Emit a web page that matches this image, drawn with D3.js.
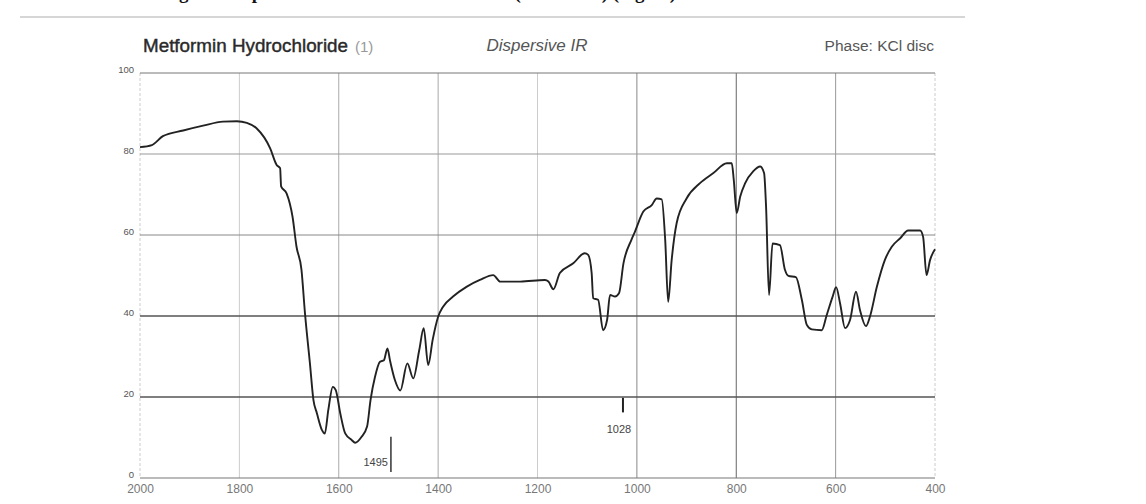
<!DOCTYPE html>
<html>
<head>
<meta charset="utf-8">
<script src="https://cdn.jsdelivr.net/npm/d3@7"></script>
<style>
  body { margin: 0; background: #fff; }
  svg { display: block; }
</style>
</head>
<body>
<div id="chart"></div>
<script>
// spectrum: wavenumber (cm-1) and % transmittance
const wavenumbers = [2000, 1976, 1954, 1913, 1873, 1833, 1805, 1785, 1765, 1738, 1725, 1718, 1716, 1705, 1693, 1685,
  1675, 1668, 1658, 1651, 1644, 1634, 1628, 1621, 1612, 1606, 1597, 1587, 1574, 1567, 1554, 1543, 1536, 1527,
  1517, 1509, 1502, 1497, 1487, 1476, 1462, 1450, 1438, 1429, 1420, 1411, 1400, 1390, 1370, 1343, 1316, 1289,
  1275, 1235, 1185, 1178, 1168, 1155, 1128, 1105, 1098, 1091, 1088, 1078, 1068, 1060, 1054, 1044, 1036, 1027,
  1011, 1004, 987, 970, 960, 950, 943, 937, 930, 920, 900, 873, 846, 819, 809, 805, 799, 792, 782, 766, 752,
  744, 740, 734, 727, 712, 702, 695, 680, 668, 658, 648, 628, 618, 606, 599, 591, 581, 571, 559, 551, 539,
  531, 517, 501, 487, 470, 454, 430, 424, 417, 410, 400];
const transmittance = [81.7, 82.2, 84.4, 85.8, 87.0, 88.0, 88.1, 87.7, 86.3, 81.4, 77.3, 76.5, 72.0, 70.3, 64.5, 57.1,
  51.4, 40.7, 28.3, 19.3, 16.0, 11.9, 11.0, 16.8, 22.5, 21.7, 16.0, 11.0, 9.4, 8.7, 10.2, 12.7, 19.3, 25.0,
  28.7, 29.1, 32.0, 29.1, 24.2, 21.6, 28.3, 24.6, 31.6, 37.0, 27.9, 34.1, 39.8, 42.3, 44.8, 47.2, 48.9, 50.1,
  48.5, 48.5, 48.9, 48.5, 46.6, 50.6, 53.0, 55.5, 55.1, 50.6, 44.4, 44.0, 36.5, 39.0, 45.2, 44.8, 45.6, 53.0,
  58.8, 60.8, 65.8, 67.4, 69.0, 68.8, 58.8, 43.5, 53.8, 62.9, 69.0, 72.8, 75.3, 77.7, 77.7, 73.6, 65.4, 69.5, 72.8, 75.7, 76.9,
  75.3, 67.0, 45.2, 57.9, 57.5, 51.4, 49.9, 49.6, 44.0, 37.8, 36.7, 36.5, 40.2, 44.8, 47.1, 43.1, 37.0, 39.0, 46.0, 41.5, 37.5,
  39.8, 47.2, 53.8, 57.1, 59.2, 61.1, 61.1, 59.6, 50.1, 53.8, 56.5];

const xTicks = [2000, 1800, 1600, 1400, 1200, 1000, 800, 600, 400];
const yTicks = [0, 20, 40, 60, 80, 100];
const peakMarks = [{ wn: 1495, label: "1495" }, { wn: 1028, label: "1028" }];

const width = 1146;
const height = 504;
const margin = { top: 73, right: 211, bottom: 26, left: 140 };

const xScale = d3.scaleLinear()
  .domain([2000, 400])
  .range([margin.left, width - margin.right]);

const yScale = d3.scaleLinear()
  .domain([0, 100])
  .range([height - margin.bottom, margin.top]);

const svg = d3.select("#chart")
  .append("svg")
  .attr("width", width)
  .attr("height", height);

// caption of the page above, cut by the scan edge
svg.append("text")
  .attr("x", 162)
  .attr("y", -1)
  .attr("font-family", "Liberation Serif, serif")
  .attr("font-weight", "bold")
  .attr("font-size", 19)
  .attr("fill", "#111")
  .text("Fig. 1: IR spectrum of metformin standard (Reference) (Sigma)");

svg.append("line")
  .attr("x1", 20).attr("x2", 965)
  .attr("y1", 17).attr("y2", 17)
  .attr("stroke", "#c8c8c8")
  .attr("stroke-width", 1.5);

// header
const header = svg.append("g")
  .attr("font-family", "Liberation Sans, Arial, sans-serif")
  .attr("fill", "#333");

header.append("text")
  .attr("x", 143)
  .attr("y", 52)
  .attr("font-size", 17.5)
  .attr("fill", "#2a2a2a")
  .attr("stroke", "#2a2a2a")
  .attr("stroke-width", 0.4)
  .attr("textLength", 205)
  .attr("lengthAdjust", "spacingAndGlyphs")
  .text("Metformin Hydrochloride");

header.append("text")
  .attr("x", 355)
  .attr("y", 52)
  .attr("font-size", 15)
  .attr("fill", "#999")
  .text("(1)");

header.append("text")
  .attr("x", 537)
  .attr("y", 51)
  .attr("text-anchor", "middle")
  .attr("font-style", "italic")
  .attr("font-size", 17)
  .attr("fill", "#555")
  .text("Dispersive IR");

header.append("text")
  .attr("x", 934)
  .attr("y", 51)
  .attr("text-anchor", "end")
  .attr("font-size", 15.5)
  .attr("fill", "#555")
  .text("Phase: KCl disc");

// grid
const vColor = { 2000: "#ccc", 1800: "#ccc", 1600: "#aaa", 1400: "#aaa", 1200: "#ccc", 1000: "#888", 800: "#666", 600: "#999", 400: "#ccc" };
const hColor = { 0: "#777", 20: "#555", 40: "#555", 60: "#888", 80: "#999", 100: "#777" };

svg.append("g")
  .selectAll("line")
  .data(xTicks)
  .join("line")
  .attr("x1", d => xScale(d)).attr("x2", d => xScale(d))
  .attr("y1", yScale(100)).attr("y2", yScale(0))
  .attr("stroke", d => vColor[d])
  .attr("stroke-width", 1)
  .attr("stroke-dasharray", d => (d === 2000 || d === 400) ? "3,2" : null);

svg.append("g")
  .selectAll("line")
  .data(yTicks)
  .join("line")
  .attr("x1", xScale(2000)).attr("x2", xScale(400))
  .attr("y1", d => yScale(d)).attr("y2", d => yScale(d))
  .attr("stroke", d => hColor[d])
  .attr("stroke-width", d => (d === 20 || d === 40) ? 1.3 : 1);

// axes (labels only)
svg.append("g")
  .attr("class", "axis x-axis")
  .attr("transform", `translate(0,${height - margin.bottom})`)
  .call(d3.axisBottom(xScale).tickValues(xTicks).tickFormat(d3.format("d")).tickSize(0).tickPadding(6))
  .call(g => g.select(".domain").remove())
  .call(g => g.selectAll("text")
    .attr("font-family", "Liberation Sans, Arial, sans-serif")
    .attr("font-size", 12)
    .attr("fill", "#777"));

svg.append("g")
  .attr("class", "axis y-axis")
  .attr("transform", `translate(${margin.left},0)`)
  .call(d3.axisLeft(yScale).tickValues(yTicks).tickSize(0).tickPadding(6))
  .call(g => g.select(".domain").remove())
  .call(g => g.selectAll("text")
    .attr("dy", "-0.1em")
    .attr("font-family", "Liberation Sans, Arial, sans-serif")
    .attr("font-size", 9.5)
    .attr("fill", "#555"));

// spectrum
const data = wavenumbers.map((w, i) => ({ wn: w, t: transmittance[i] }));

const line = d3.line()
  .x(d => xScale(d.wn))
  .y(d => yScale(d.t))
  .curve(d3.curveMonotoneX);

svg.append("path")
  .datum(data)
  .attr("fill", "none")
  .attr("stroke", "#222")
  .attr("stroke-width", 1.9)
  .attr("stroke-linejoin", "round")
  .attr("d", line);

// peak markers
const marks = svg.append("g").attr("font-family", "Liberation Sans, Arial, sans-serif");

// 1495 mark rises from the baseline, label to its left
marks.append("line")
  .attr("x1", xScale(peakMarks[0].wn)).attr("x2", xScale(peakMarks[0].wn))
  .attr("y1", yScale(10.2)).attr("y2", yScale(1.5))
  .attr("stroke", "#333").attr("stroke-width", 1.5);
marks.append("text")
  .attr("x", xScale(peakMarks[0].wn) - 3)
  .attr("y", yScale(3))
  .attr("text-anchor", "end")
  .attr("font-size", 11)
  .attr("fill", "#444")
  .text(peakMarks[0].label);

// 1028 mark hangs from the 20 % line, label below
marks.append("line")
  .attr("x1", xScale(peakMarks[1].wn)).attr("x2", xScale(peakMarks[1].wn))
  .attr("y1", yScale(19.8)).attr("y2", yScale(16.2))
  .attr("stroke", "#222").attr("stroke-width", 2);
marks.append("text")
  .attr("x", xScale(peakMarks[1].wn) - 4)
  .attr("y", yScale(11.2))
  .attr("text-anchor", "middle")
  .attr("font-size", 11)
  .attr("fill", "#444")
  .text(peakMarks[1].label);
</script>
</body>
</html>
